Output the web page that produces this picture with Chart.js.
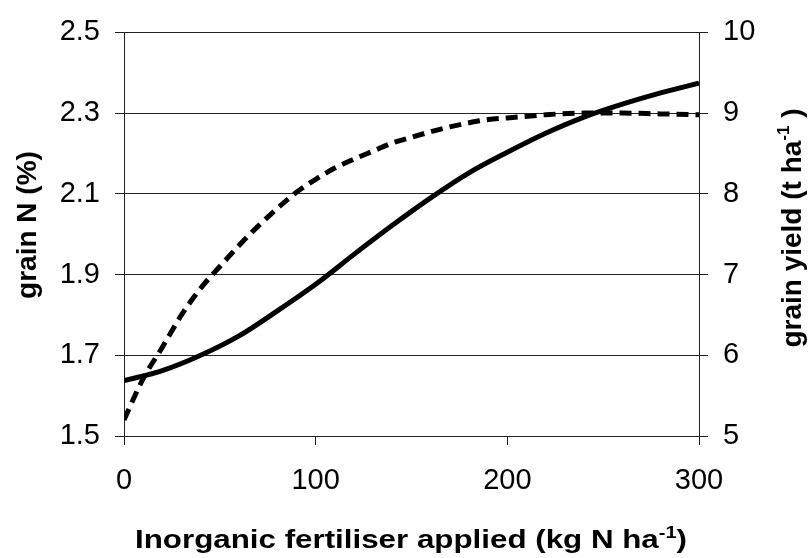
<!DOCTYPE html>
<html>
<head>
<meta charset="utf-8">
<script src="https://cdn.jsdelivr.net/npm/chart.js@4/dist/chart.umd.min.js"></script>
<style>
  html, body { margin: 0; padding: 0; background: #fff; }
  canvas { display: block; }
</style>
</head>
<body>
<canvas id="nChart" width="809" height="558"></canvas>
<script>
// --- DATA ---
const grainNRates = [0, 20, 40, 60, 80, 100, 120, 140, 160, 180, 200, 220, 240, 260, 280, 300];
const grainN = [1.637, 1.662, 1.70, 1.748, 1.81, 1.876, 1.95, 2.022, 2.09, 2.152, 2.203, 2.25, 2.29, 2.322, 2.35, 2.374];

const yieldRates = [0, 10, 20, 30, 40, 50, 60, 70, 80, 90, 100, 110, 120, 130, 140, 150, 160, 170, 180, 190, 200, 220, 240, 260, 280, 300];
const grainYield = [5.2, 5.71, 6.1, 6.5, 6.83, 7.1, 7.36, 7.6, 7.82, 8.02, 8.18, 8.32, 8.43, 8.53, 8.63, 8.7, 8.77, 8.83, 8.88, 8.92, 8.94, 8.98, 9.0, 9.0, 8.99, 8.98];

const xTicks = [0, 100, 200, 300];
const leftTicks = [1.5, 1.7, 1.9, 2.1, 2.3, 2.5];
const rightTicks = [5, 6, 7, 8, 9, 10];

const FONT = "'Liberation Sans', Arial, sans-serif";
const tickFont = { family: FONT, size: 29 };

// pairs {x, y} for the linear x axis
function pairs(xs, ys) {
    return xs.map((x, i) => ({ x: x, y: ys[i] }));
}

// draws a title made of pieces, some of them superscript, stretched along its own length
function drawTitle(ctx, pieces, size, targetLen) {
    const widths = pieces.map(p => {
        ctx.font = "bold " + (p.sup ? Math.round(size * 0.62) : size) + "px " + FONT;
        return ctx.measureText(p.text).width;
    });
    const total = widths.reduce((a, b) => a + b, 0);
    const sx = targetLen ? targetLen / total : 1;
    ctx.scale(sx, 1);
    let x = -total / 2;
    pieces.forEach((p, i) => {
        ctx.font = "bold " + (p.sup ? Math.round(size * 0.62) : size) + "px " + FONT;
        ctx.fillText(p.text, x, p.sup ? -size * 0.42 : 0);
        x += widths[i];
    });
}

const axisTitles = {
    id: 'axisTitles',
    afterDraw(chart) {
        const ctx = chart.ctx;
        ctx.save();
        ctx.fillStyle = '#000';
        ctx.textAlign = 'left';
        ctx.textBaseline = 'alphabetic';

        // x axis title
        ctx.save();
        ctx.translate(411, 548);
        drawTitle(ctx, [
            { text: 'Inorganic fertiliser applied (kg N ha' },
            { text: '-1', sup: true },
            { text: ')' }
        ], 25, 552);
        ctx.restore();

        // left axis title
        ctx.save();
        ctx.translate(36, 225);
        ctx.rotate(-Math.PI / 2);
        drawTitle(ctx, [{ text: 'grain N (%)' }], 28, 0);
        ctx.restore();

        // right axis title
        ctx.save();
        ctx.translate(801, 228);
        ctx.rotate(-Math.PI / 2);
        drawTitle(ctx, [
            { text: 'grain yield (t ha' },
            { text: '-1', sup: true },
            { text: ' )' }
        ], 28, 0);
        ctx.restore();

        ctx.restore();
    }
};

const ctx = document.getElementById('nChart').getContext('2d');

new Chart(ctx, {
    type: 'line',
    data: {
        datasets: [
            {
                label: 'grain N',
                data: pairs(grainNRates, grainN),
                yAxisID: 'y',
                borderColor: '#000',
                borderWidth: 5,
                pointRadius: 0,
                cubicInterpolationMode: 'monotone',
                fill: false
            },
            {
                label: 'grain yield',
                data: pairs(yieldRates, grainYield),
                yAxisID: 'y2',
                borderColor: '#000',
                borderWidth: 5,
                borderDash: [12, 7],
                pointRadius: 0,
                cubicInterpolationMode: 'monotone',
                fill: false
            }
        ]
    },
    options: {
        responsive: false,
        animation: false,
        layout: { padding: { top: 29, left: 0, right: 0, bottom: 0 } },
        plugins: {
            legend: { display: false },
            tooltip: { enabled: false }
        },
        scales: {
            x: {
                type: 'linear',
                min: 0,
                max: 300,
                afterBuildTicks: s => { s.ticks = xTicks.map(v => ({ value: v })); },
                afterFit: s => { s.height = 122; },
                ticks: { color: '#000', font: tickFont, padding: 19, maxRotation: 0 },
                grid: { drawOnChartArea: false, drawTicks: true, tickLength: 9, color: '#222' },
                border: { display: true, color: '#222' }
            },
            y: {
                position: 'left',
                min: 1.5,
                max: 2.5,
                afterBuildTicks: s => { s.ticks = leftTicks.map(v => ({ value: v })); },
                afterFit: s => { s.width = 124; },
                ticks: { color: '#000', font: tickFont, padding: 15, callback: v => v.toFixed(1) },
                grid: { color: '#222', lineWidth: 1, tickLength: 9 },
                border: { display: true, color: '#222' }
            },
            y2: {
                position: 'right',
                min: 5,
                max: 10,
                afterBuildTicks: s => { s.ticks = rightTicks.map(v => ({ value: v })); },
                afterFit: s => { s.width = 110; },
                ticks: { color: '#000', font: tickFont, padding: 15 },
                grid: { drawOnChartArea: false, tickLength: 9, color: '#222' },
                border: { display: true, color: '#222' }
            }
        }
    },
    plugins: [axisTitles]
});
</script>
</body>
</html>
